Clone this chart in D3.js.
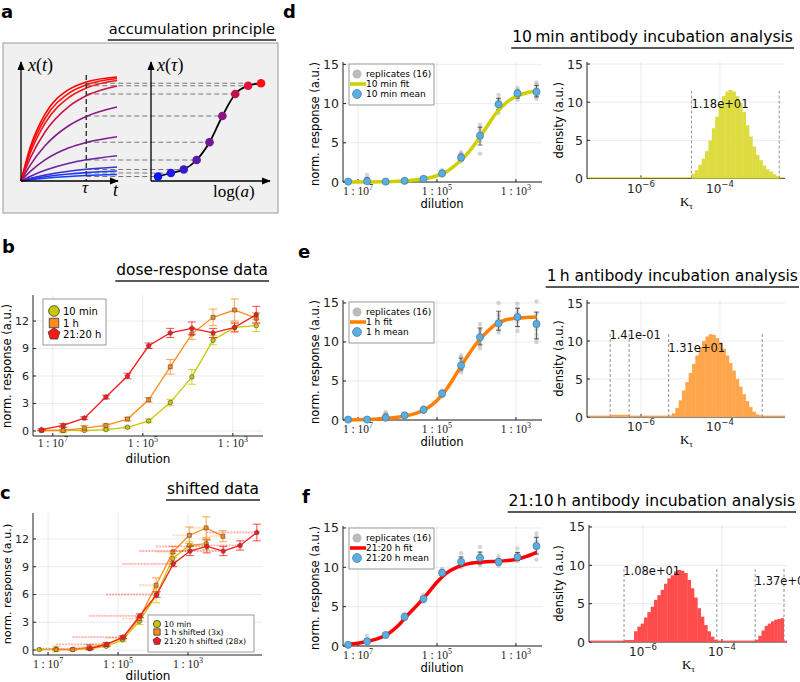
<!DOCTYPE html>
<html><head><meta charset="utf-8">
<script src="https://cdn.jsdelivr.net/npm/d3@7"></script>
<style>
body{margin:0;background:#fff;}
svg{font-family:"DejaVu Sans",sans-serif;}
</style></head><body>
<script>
// ---- data ----
// dilution series (log10 of 1/dilution), 3-fold steps
var dilLog = [-7.25,-6.77,-6.30,-5.82,-5.34,-4.87,-4.39,-3.91,-3.44,-2.96,-2.48];
var dilTickExp = [7,5,3];
var mean10 = [0.05,0.1,0.05,0.15,0.4,1.1,3.1,5.9,9.9,11.3,11.5];
var sd10   = [0.05,0.3,0.05,0.1,0.1,0.2,0.35,0.8,0.5,0.4,0.65];
var mean1h = [0.05,0.05,0.3,0.6,1.3,3.4,7.0,10.6,12.4,13.2,12.3];
var sd1h   = [0.05,0.1,0.3,0.15,0.2,0.25,0.8,0.6,0.9,1.2,0.6];
var mean21 = [0.15,0.6,1.4,3.7,6.0,9.3,10.7,11.2,10.7,11.3,12.7];
var sd21   = [0.1,0.2,0.15,0.2,0.3,0.3,0.5,0.7,0.5,0.5,0.9];
var shift1h = 0.477;  // 3x
var shift21 = 1.447;  // 28x

var rep10 = [[0,0,0.05,0.1,0,0.05,0.1,0.05],[0,0.05,0.1,0.2,0.5,0.9,0,0.05],[0,0.05,0.1,0.05,0,0.1,0.05,0],
  [0.1,0.2,0.1,0.25,0.15,0.1,0.2,0.15],[0.3,0.4,0.5,0.35,0.45,0.6,0.3,0.4],[0.8,1.0,1.2,1.4,0.9,1.1,1.5,0.95],
  [2.6,2.8,3.0,3.3,3.6,3.8,2.9,3.1],[3.6,5.2,5.6,6.0,6.4,6.9,7.3,5.8],[8.8,9.3,9.6,10.0,10.3,10.6,11.1,9.8],
  [10.5,10.8,11.1,11.4,11.7,12.0,11.2,10.9],[10.6,10.9,11.3,11.6,12.0,12.4,12.7,11.2]];
var rep1h = [[0,0.05,0.1,0,0.05,0.1,0,0.05],[0,0.05,0.1,0.05,0.2,0,0.1,0.05],[0.1,0.2,0.3,0.5,0.8,1.0,0.2,0.3],
  [0.4,0.5,0.6,0.7,0.8,0.6,0.5,0.7],[1.0,1.1,1.3,1.5,1.7,1.2,1.4,1.3],[3.0,3.2,3.4,3.6,3.8,3.3,3.5,3.1],
  [6.1,6.4,6.8,7.2,7.6,8.0,8.3,7.0],[9.2,9.6,10.0,10.5,11.0,11.4,11.7,12.3],[11.2,11.6,12.0,12.4,12.8,13.2,13.6,15.0],
  [11.4,12.0,12.6,13.2,13.8,14.3,14.9,13.0],[10.0,10.5,11.0,11.6,12.2,12.8,13.6,15.2]];
var rep21 = [[0.05,0.1,0.15,0.2,0.3,0.1,0.2,0.1],[0.4,0.5,0.6,0.7,0.8,1.3,0.6,0.5],[1.2,1.3,1.4,1.5,1.6,1.3,1.4,1.5],
  [3.4,3.5,3.7,3.9,4.1,3.6,3.8,3.7],[5.6,5.8,6.0,6.2,6.5,5.9,6.1,6.0],[9.0,9.2,9.4,9.6,9.8,9.1,9.3,9.5],
  [10.0,10.3,10.6,10.9,11.2,11.8,10.5,10.8],[10.3,10.7,11.0,11.4,11.8,12.6,11.2,10.5],[10.2,10.4,10.6,10.8,11.0,11.4,10.7,10.5],
  [10.8,11.0,11.2,11.4,11.8,12.4,11.3,11.1],[11.0,11.8,12.4,12.8,13.3,13.8,14.3,12.6]];

// fitted curves
var fitLog = [-7.25,-7.0,-6.75,-6.5,-6.25,-6.0,-5.75,-5.5,-5.25,-5.0,-4.75,-4.5,-4.25,-4.0,-3.75,-3.5,-3.25,-3.0,-2.75,-2.48];
var fit10 = [0,0.005,0.01,0.02,0.04,0.08,0.15,0.28,0.48,0.8,1.35,2.3,3.5,5.1,6.95,8.8,10.1,10.9,11.35,11.6];
var fit1h = [0,0.03,0.08,0.14,0.22,0.35,0.56,0.9,1.5,2.5,4.0,6.0,8.0,9.8,11.2,12.3,12.85,13.05,13.15,13.2];
var fit21 = [0.18,0.35,0.6,0.95,1.5,2.5,3.9,5.2,6.6,8.1,9.3,10.0,10.4,10.6,10.7,10.75,10.85,11.0,11.35,11.9];

// posterior histograms of K_tau (log10 start, bin width, heights)
var histD = [{start:-4.72, w:0.0855, h:[0.6,1.1,1.8,2.6,3.6,5.0,6.6,8.1,9.7,10.8,11.4,11.6,11.4,10.8,9.9,8.7,7.0,5.5,4.2,3.1,2.4,1.7,1.2,0.9,0.55,0.3]}];
var histE = [{start:-6.78, w:0.48, h:[0.3]},
  {start:-5.30, w:0.0846, h:[0.2,0.5,1.2,2.2,3.5,4.6,5.8,7.0,8.1,9.2,10.0,10.6,10.9,10.8,10.4,9.8,9.0,8.1,7.1,6.1,5.0,4.0,3.0,2.1,1.3,0.7,0.35,0.2]}];
var histF = [{start:-6.48, w:0.0843, h:[0.25,0.25,0.25,1.4,2.0,2.4,3.2,3.9,4.6,5.5,6.1,6.8,7.6,8.3,8.7,9.2,9.4,9.3,9.0,8.1,7.0,5.8,4.4,3.3,2.2,1.4,0.7,0.3]},
  {start:-3.16, w:0.08, h:[0.3,0.8,1.5,2.1,2.4,2.7,2.9,3.0,3.1]}];
var dashD = [-4.72,-2.50], dashE = [-6.78,-6.30,-5.30,-2.93], dashF = [-6.48,-4.13,-3.16,-2.43];
var labD = [{k:-4.72, t:"1.18e+01", v:9.8}];
var labE = [{k:-6.80, t:"1.41e-01", v:10.8}, {k:-5.31, t:"1.31e+01", v:9.1}];
var labF = [{k:-6.50, t:"1.08e+01", v:9.2}, {k:-3.17, t:"1.37e+01", v:7.9}];
var kTickExp = [-6,-4];

// accumulation principle schematic
var aT = [0,0.1,0.25,0.5,0.68,1.0];
var aTau = 0.68;
var aCurves = [[0,34.9,66.9,91.6,98.9,104],[0,31.8,62.5,87.9,96.2,102.5],[0,28.7,57.7,83.6,93,100.5],
  [0,23.5,49,74.6,85.2,95],[0,16.4,35.2,55.5,64.6,74],[0,9.8,21.1,33.2,38.6,44.3],[0,4.8,10.7,17.8,21.2,25.3],
  [0,2.7,5.9,9.8,11.7,14],[0,1.9,4.2,7.0,8.4,10],[0,1.24,2.75,4.56,5.45,6.5]];
var aCurveCol = ["#ff0000","#ff1010","#f41818","#d0104a","#8a1a8a","#7f1a95","#6a1fa8","#3a30d8","#2038f0","#1040ff"];
var aPts = [4.5,8,11.5,21,38.7,65,87,95.3,97.7];
var aPtCol = ["#0a14ff","#2418e8","#3c1ac4","#5a1aa6","#6e1a98","#8a1485","#c01050","#e0103a","#ff1018"];

var c10 = "#c8c800", c1h = "#ff8c1a", c21 = "#ff1a1a";
var meanCol = "#5aaee0";

// ---- drawing ----
var svg = d3.select("body").append("svg").attr("width",800).attr("height",682);
var defs = svg.append("defs");
defs.append("marker").attr("id","arr").attr("viewBox","0 0 10 10").attr("refX",9).attr("refY",5)
  .attr("markerWidth",7).attr("markerHeight",7).attr("orient","auto")
  .append("path").attr("d","M0,1L10,5L0,9Z").attr("fill","#000");

var pentagon = {draw: function(ctx, size){
  var r = Math.sqrt(size/2.38);
  for (var k=0;k<5;k++){
    var a = -Math.PI/2 + k*2*Math.PI/5;
    if (k==0) ctx.moveTo(r*Math.cos(a), r*Math.sin(a)); else ctx.lineTo(r*Math.cos(a), r*Math.sin(a));
  }
  ctx.closePath();
}};

function panelLabel(l, x, y){
  svg.append("text").attr("x",x).attr("y",y).attr("font-size",18).attr("font-weight","bold").text(l);
}
function title(txt, xr, y, fs){
  var t = svg.append("text").attr("x",xr).attr("y",y).attr("text-anchor","end").attr("font-size",fs).text(txt);
  var w = t.node().getComputedTextLength();
  svg.append("line").attr("x1",xr-w-1).attr("x2",xr+1).attr("y1",y+6).attr("y2",y+6)
    .attr("stroke","#222").attr("stroke-width",1.3);
}
function yLabel(txt, x, y, fs){
  svg.append("text").attr("transform","translate("+x+","+y+") rotate(-90)").attr("text-anchor","middle")
    .attr("font-size",fs).text(txt);
}
function frame(xs, ys, xGrid, yTicks, fs){
  var xr = xs.range(), yr = ys.range();
  var g = svg.append("g");
  g.selectAll(".gx").data(xGrid).join("line").attr("x1",xs).attr("x2",xs).attr("y1",yr[0]).attr("y2",yr[1])
    .attr("stroke","#000").attr("stroke-opacity",0.08);
  g.selectAll(".gy").data(yTicks).join("line").attr("x1",xr[0]).attr("x2",xr[1]).attr("y1",ys).attr("y2",ys)
    .attr("stroke","#000").attr("stroke-opacity",0.08);
  g.append("line").attr("x1",xr[0]).attr("x2",xr[0]).attr("y1",yr[0]).attr("y2",yr[1]).attr("stroke","#222");
  g.append("line").attr("x1",xr[0]).attr("x2",xr[1]).attr("y1",yr[0]).attr("y2",yr[0]).attr("stroke","#222");
  g.selectAll(".ty").data(yTicks).join("line").attr("x1",xr[0]).attr("x2",xr[0]+3).attr("y1",ys).attr("y2",ys).attr("stroke","#222");
  g.selectAll(".tx").data(xGrid).join("line").attr("x1",xs).attr("x2",xs).attr("y1",yr[0]).attr("y2",yr[0]-3).attr("stroke","#222");
  g.selectAll(".ly").data(yTicks).join("text").attr("x",xr[0]-4).attr("y",function(d){return ys(d)+fs*0.36;})
    .attr("text-anchor","end").attr("font-size",fs).attr("fill","#222").text(function(d){return d;});
  return g;
}
function dilTicks(xs, yb, fs){
  var t = svg.append("g").selectAll("text").data(dilTickExp).join("text")
    .attr("x",function(d){return xs(-d);}).attr("y",yb).attr("text-anchor","middle")
    .attr("font-family","Liberation Serif, DejaVu Serif, serif").attr("font-size",fs).attr("fill","#222");
  t.append("tspan").text("1 : 10");
  t.append("tspan").attr("dy",-5).attr("font-size",fs*0.7).text(function(d){return d;});
}
function kTicks(xs, yb){
  var t = svg.append("g").selectAll("text").data(kTickExp).join("text")
    .attr("x",function(d){return xs(d);}).attr("y",yb).attr("text-anchor","middle").attr("font-size",12).attr("fill","#222");
  t.append("tspan").text("10");
  t.append("tspan").attr("dy",-6).attr("font-size",8.5).text(function(d){return "\u2212"+(-d);});
}
function kLabel(x, y){
  var t = svg.append("text").attr("x",x).attr("y",y).attr("text-anchor","middle")
    .attr("font-family","Liberation Serif, DejaVu Serif, serif").attr("font-size",13);
  t.append("tspan").text("K");
  t.append("tspan").attr("dy",3).attr("font-size",9).text("\u03c4");
}

// ===== panel a =====
panelLabel("a", 1, 18);
title("accumulation principle", 275, 34, 14.6);
svg.append("rect").attr("x",3).attr("y",43).attr("width",275).attr("height",170).attr("fill","#f0f0f0").attr("stroke","#999");
var aX = d3.scaleLinear().domain([0,1]).range([21,117]);
var aY = d3.scaleLinear().domain([0,110]).range([181,71]);
var aR = d3.scaleLinear().domain([0,8]).range([158,261]);
var ag = svg.append("g");
// dashed levels
ag.selectAll(".lv").data(aPts).join("line").attr("x1",aX(aTau)).attr("x2",function(d,i){return aR(i);})
  .attr("y1",aY).attr("y2",aY).attr("stroke","#777").attr("stroke-width",1.1).attr("stroke-dasharray","5,3");
var aLine = d3.line().x(function(d,i){return aX(aT[i]);}).y(function(d){return aY(d);}).curve(d3.curveMonotoneX);
ag.selectAll(".cv").data(aCurves.slice().reverse()).join("path").attr("d",aLine).attr("fill","none")
  .attr("stroke",function(d,i){return aCurveCol[aCurves.length-1-i];}).attr("stroke-width",1.6);
ag.append("line").attr("x1",aX(aTau)).attr("x2",aX(aTau)).attr("y1",75).attr("y2",181)
  .attr("stroke","#333").attr("stroke-width",1.4).attr("stroke-dasharray","5,3");
// axes with arrows
[[21,181,21,62],[21,181,118,181],[151,181,151,62],[151,181,270,181]].forEach(function(l){
  ag.append("line").attr("x1",l[0]).attr("y1",l[1]).attr("x2",l[2]).attr("y2",l[3]).attr("stroke","#000")
    .attr("stroke-width",1.3).attr("marker-end","url(#arr)");
});
var sLine = d3.line().x(function(d,i){return aR(i);}).y(function(d){return aY(d);}).curve(d3.curveMonotoneX);
ag.append("path").attr("d",sLine(aPts)).attr("fill","none").attr("stroke","#000").attr("stroke-width",1.8);
ag.selectAll(".pt").data(aPts).join("circle").attr("cx",function(d,i){return aR(i);}).attr("cy",aY).attr("r",4.3)
  .attr("fill",function(d,i){return aPtCol[i];});
function mathText(x, y, parts, fs){
  var t = svg.append("text").attr("x",x).attr("y",y).attr("font-family","Liberation Serif, DejaVu Serif, serif").attr("font-size",fs);
  parts.forEach(function(p){ t.append("tspan").attr("font-style",p[1]?"italic":"normal").text(p[0]); });
  return t;
}
mathText(28, 71, [["x",1],["(",0],["t",1],[")",0]], 18);
mathText(157, 71, [["x",1],["(",0],["\u03c4",1],[")",0]], 18);
mathText(82, 193, [["\u03c4",1]], 17);
mathText(113, 196, [["t",1]], 18);
mathText(213, 197, [["log",0],["(",0],["a",1],[")",0]], 17);

// ===== panel b =====
panelLabel("b", 2, 253);
title("dose-response data", 268, 275, 15.4);
var bX = d3.scaleLinear().domain([-7.44,-2.33]).range([33,263]);
var bY = d3.scaleLinear().domain([-0.55,14.84]).range([436,295]);
frame(bX, bY, [-7,-5,-3], [0,3,6,9,12], 11);
dilTicks(bX, 447, 11.5);
svg.append("text").attr("x",148).attr("y",463).attr("text-anchor","middle").attr("font-size",12).text("dilution");
yLabel("norm. response (a.u.)", 11, 366, 11.5);

var series = [
  {m:mean10, s:sd10, c:c10, sym:d3.symbolCircle, name:"10 min", sh:0},
  {m:mean1h, s:sd1h, c:c1h, sym:d3.symbolSquare, name:"1 h", sh:shift1h},
  {m:mean21, s:sd21, c:c21, sym:pentagon, name:"21:20 h", sh:shift21}
];
function drawSeries(xs, ys, shifted, msize){
  var g = svg.append("g");
  series.forEach(function(se){
    var off = shifted ? se.sh : 0;
    var pts = se.m.map(function(v,i){return {x:dilLog[i]+off, x0:dilLog[i], y:v, s:se.s[i]};});
    if (shifted && off>0){
      g.selectAll(null).data(pts).join("line").attr("x1",function(d){return xs(d.x0);}).attr("x2",function(d){return xs(d.x);})
        .attr("y1",function(d){return ys(d.y);}).attr("y2",function(d){return ys(d.y);})
        .attr("stroke",se.c).attr("stroke-opacity",0.35).attr("stroke-width",1.8).attr("stroke-dasharray","2,1");
    }
    g.append("path").attr("d",d3.line().x(function(d){return xs(d.x);}).y(function(d){return ys(d.y);})(pts))
      .attr("fill","none").attr("stroke",se.c).attr("stroke-width",1.3);
    var eb = g.selectAll(null).data(pts).join("g").attr("stroke",se.c).attr("stroke-opacity",0.8);
    eb.append("line").attr("x1",function(d){return xs(d.x);}).attr("x2",function(d){return xs(d.x);})
      .attr("y1",function(d){return ys(d.y-d.s);}).attr("y2",function(d){return ys(d.y+d.s);});
    [-1,1].forEach(function(sg){
      eb.append("line").attr("x1",function(d){return xs(d.x)-4;}).attr("x2",function(d){return xs(d.x)+4;})
        .attr("y1",function(d){return ys(d.y+sg*d.s);}).attr("y2",function(d){return ys(d.y+sg*d.s);});
    });
    g.selectAll(null).data(pts).join("path").attr("d",d3.symbol().type(se.sym).size(msize))
      .attr("transform",function(d){return "translate("+xs(d.x)+","+ys(d.y)+")";})
      .attr("fill",se.c).attr("stroke","#444").attr("stroke-width",0.6);
  });
}
drawSeries(bX, bY, false, 16);
function legendBox(x, y, w, h, rows, fs, msize, labels){
  var g = svg.append("g");
  g.append("rect").attr("x",x).attr("y",y).attr("width",w).attr("height",h).attr("fill","#fff").attr("stroke","#999");
  series.forEach(function(se,i){
    g.append("path").attr("d",d3.symbol().type(se.sym).size(msize)()).attr("transform","translate("+rows.mx+","+rows.y[i]+")")
      .attr("fill",se.c).attr("stroke","#333").attr("stroke-width",0.8);
    g.append("text").attr("x",rows.tx).attr("y",rows.y[i]+fs*0.36).attr("font-size",fs).text(labels[i]);
  });
}
legendBox(43, 299, 63, 46, {mx:54, tx:63, y:[311,323,334]}, 10, 90, ["10 min","1 h","21:20 h"]);

// ===== panel c =====
panelLabel("c", 0, 499);
title("shifted data", 259, 494, 15.4);
var cX = d3.scaleLinear().domain([-7.43,-0.886]).range([33,262]);
var cY = d3.scaleLinear().domain([-0.54,14.81]).range([655,513]);
frame(cX, cY, [-7,-5,-3], [0,3,6,9,12], 11);
dilTicks(cX, 668, 11.5);
svg.append("text").attr("x",148).attr("y",680).attr("text-anchor","middle").attr("font-size",12).text("dilution");
yLabel("norm. response (a.u.)", 11, 584, 11.2);
drawSeries(cX, cY, true, 16);
legendBox(148, 615, 106, 37, {mx:157, tx:164, y:[624,632,641]}, 7.8, 40, ["10 min","1 h shifted (3x)","21:20 h shifted (28x)"]);

// ===== panels d/e/f =====
var rows = [
  {lab:"d", lx:283, ly:18, title:"10\u2009min antibody incubation analysis", tr:793, ty:42,
   top:62, bot:182, ymax:15.3, reps:rep10, means:mean10, fit:fit10, col:"#cfcf00", name:"10 min",
   hTop:62, hBot:178.5, hMax:15.27, hx0:587, hist:histD, dash:dashD, dashTop:11.5, labs:labD, hcol:"#dcdc40"},
  {lab:"e", lx:298, ly:258, title:"1\u2009h antibody incubation analysis", tr:798, ty:281,
   top:300, bot:420, ymax:15.38, reps:rep1h, means:mean1h, fit:fit1h, col:"#ff8000", name:"1 h",
   hTop:300, hBot:417, hMax:15.4, hx0:587, hist:histE, dash:dashE, dashTop:11.05, labs:labE, hcol:"#ffa64d"},
  {lab:"f", lx:302, ly:503, title:"21:10\u2009h antibody incubation analysis", tr:795, ty:506,
   top:526, bot:646, ymax:15.25, reps:rep21, means:mean21, fit:fit21, col:"#ff0000", name:"21:20 h",
   hTop:525, hBot:642, hMax:15.26, hx0:589, hist:histF, dash:dashF, dashTop:9.65, labs:labF, hcol:"#ff4d4d"}
];
rows.forEach(function(r){
  panelLabel(r.lab, r.lx, r.ly);
  title(r.title, r.tr, r.ty, 15.6);
  var xs = d3.scaleLinear().domain([-7.38,-2.34]).range([343,542]);
  var ys = d3.scaleLinear().domain([0,r.ymax]).range([r.bot,r.top]);
  frame(xs, ys, [-7,-5,-3], [0,5,10,15], 12.5);
  dilTicks(xs, r.bot+13, 11.5);
  svg.append("text").attr("x",442).attr("y",r.bot+26).attr("text-anchor","middle").attr("font-size",11.5).text("dilution");
  yLabel("norm. response (a.u.)", 319, (r.top+r.bot)/2+2, 11.5);
  var g = svg.append("g");
  r.reps.forEach(function(arr,i){
    g.selectAll(null).data(arr).join("circle").attr("cx",xs(dilLog[i])).attr("cy",ys).attr("r",2.2)
      .attr("fill","#888").attr("fill-opacity",0.35);
    var sd = d3.deviation(arr), m = d3.mean(arr);
    var e = g.append("g").attr("stroke","#222").attr("stroke-opacity",0.65);
    e.append("line").attr("x1",xs(dilLog[i])).attr("x2",xs(dilLog[i])).attr("y1",ys(m-sd)).attr("y2",ys(m+sd));
    [-1,1].forEach(function(sg){
      e.append("line").attr("x1",xs(dilLog[i])-2.5).attr("x2",xs(dilLog[i])+2.5).attr("y1",ys(m+sg*sd)).attr("y2",ys(m+sg*sd));
    });
  });
  g.append("path").attr("d",d3.line().x(function(d,i){return xs(fitLog[i]);}).y(function(d){return ys(d);}).curve(d3.curveMonotoneX)(r.fit))
    .attr("fill","none").attr("stroke",r.col).attr("stroke-width",3.5);
  g.selectAll(null).data(r.means).join("circle").attr("cx",function(d,i){return xs(dilLog[i]);}).attr("cy",ys).attr("r",3.6)
    .attr("fill",meanCol).attr("stroke","#3a6d99").attr("stroke-width",0.6);
  // legend
  var lg = svg.append("g"), ly0 = r.top+2;
  lg.append("rect").attr("x",349).attr("y",ly0).attr("width",85).attr("height",41).attr("fill","#fff").attr("stroke","#999");
  lg.append("circle").attr("cx",357).attr("cy",ly0+10).attr("r",4.5).attr("fill","#bbb");
  lg.append("line").attr("x1",350).attr("x2",366).attr("y1",ly0+20).attr("y2",ly0+20).attr("stroke",r.col).attr("stroke-width",3.5);
  lg.append("circle").attr("cx",357).attr("cy",ly0+30).attr("r",4.5).attr("fill",meanCol).attr("stroke","#3a6d99").attr("stroke-width",0.6);
  [["replicates (16)",10],[r.name+" fit",20],[r.name+" mean",30]].forEach(function(t){
    lg.append("text").attr("x",366).attr("y",ly0+t[1]+3.3).attr("font-size",9).text(t[0]);
  });

  // histogram
  var hx = d3.scaleLinear().domain([-7.367,-2.354]).range([r.hx0, r.hx0+198]);
  var hy = d3.scaleLinear().domain([0,r.hMax]).range([r.hBot,r.hTop]);
  frame(hx, hy, [-6,-4], [0,5,10,15], 12.5);
  var hg = svg.append("g");
  hg.append("line").attr("x1",hx.range()[0]+1).attr("x2",hx.range()[1]).attr("y1",r.hBot-0.8).attr("y2",r.hBot-0.8)
    .attr("stroke",r.hcol).attr("stroke-width",1.6).attr("stroke-opacity",0.8);
  r.hist.forEach(function(seg){
    hg.selectAll(null).data(seg.h).join("rect")
      .attr("x",function(d,i){return hx(seg.start+i*seg.w);})
      .attr("width",function(){return hx(seg.start+seg.w)-hx(seg.start)+0.4;})
      .attr("y",function(d){return hy(d);}).attr("height",function(d){return hy(0)-hy(d);})
      .attr("fill",r.hcol);
  });
  hg.selectAll(null).data(r.dash).join("line").attr("x1",hx).attr("x2",hx).attr("y1",hy(0)).attr("y2",hy(r.dashTop))
    .attr("stroke","#888").attr("stroke-dasharray","3,2").attr("stroke-width",0.9);
  hg.selectAll(null).data(r.labs).join("text").attr("x",function(d){return hx(d.k);}).attr("y",function(d){return hy(d.v)+4;})
    .attr("font-size",11.5).attr("fill","#111").text(function(d){return d.t;});
  kTicks(hx, r.hBot+14);
  kLabel(hx(-4.85), r.hBot+27);
  yLabel("density (a.u.)", 563, (r.hTop+r.hBot)/2, 11.5);
});
</script>
</body></html>
